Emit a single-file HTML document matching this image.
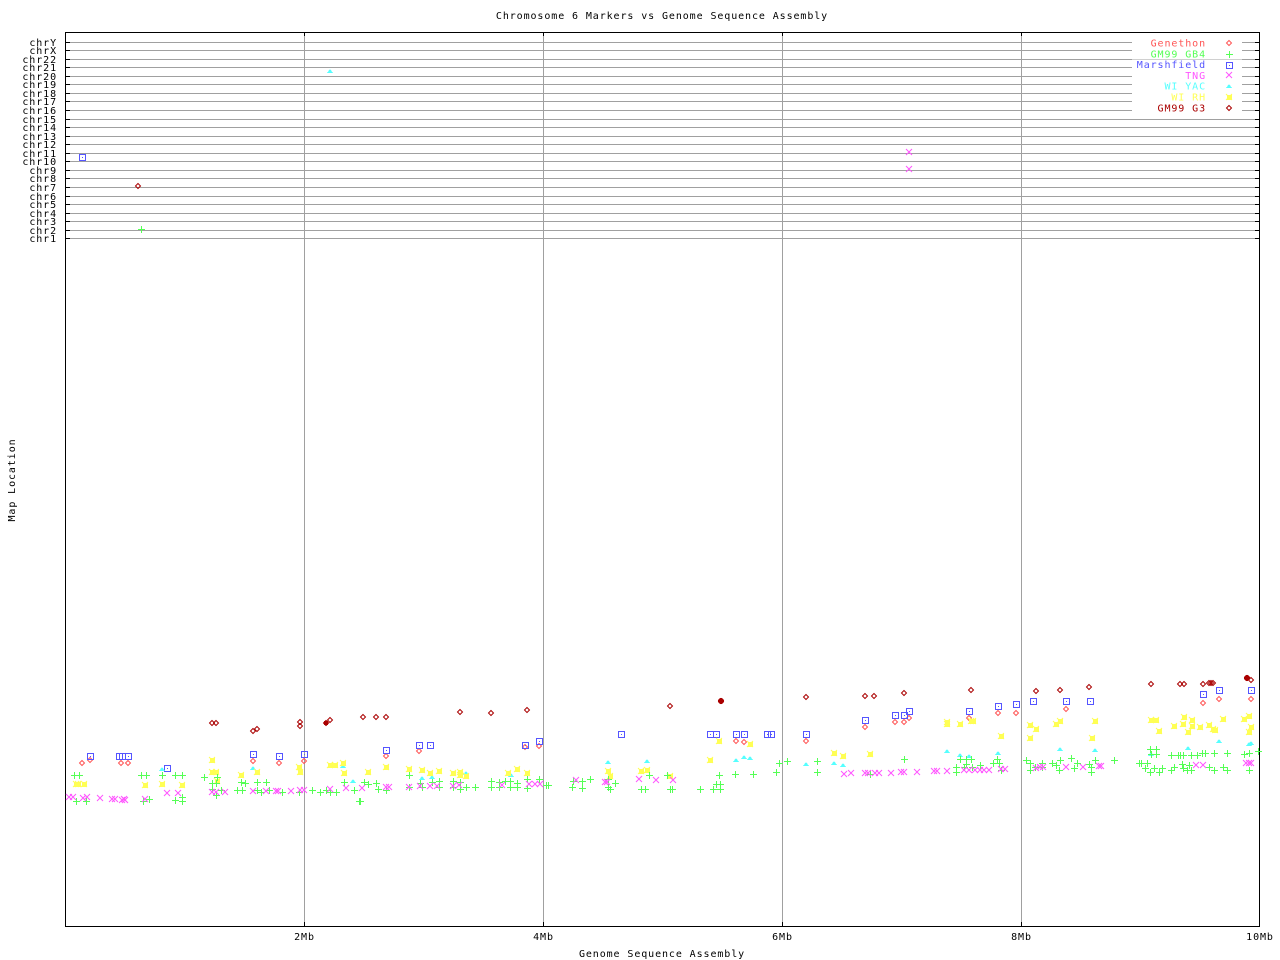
<!DOCTYPE html>
<html><head><meta charset="utf-8"><style>
body{margin:0;background:#fff}
svg{display:block}
text{font-family:"DejaVu Sans Mono","Liberation Mono",monospace;font-size:10px;letter-spacing:0.9px}
</style></head><body>
<svg id="s" width="1280" height="960" xmlns="http://www.w3.org/2000/svg" shape-rendering="crispEdges">
<rect width="1280" height="960" fill="#fff"/>
<text x="662" y="19" text-anchor="middle">Chromosome 6 Markers vs Genome Sequence Assembly</text>
<text x="662" y="957" text-anchor="middle">Genome Sequence Assembly</text>
<text x="15" y="480" text-anchor="middle" transform="rotate(-90 15 480)">Map Location</text>
<g id="g"></g>
</svg>
<script>
const NS="http://www.w3.org/2000/svg",g=document.getElementById('g');
function el(t,a,txt){const e=document.createElementNS(NS,t);for(const k in a)e.setAttribute(k,a[k]);if(txt)e.textContent=txt;g.appendChild(e);return e;}
const L=65,R=1260,T=32,B=926;
const chr=["chrY","chrX","chr22","chr21","chr20","chr19","chr18","chr17","chr16","chr15","chr14","chr13","chr12","chr11","chr10","chr9","chr8","chr7","chr6","chr5","chr4","chr3","chr2","chr1"];
chr.forEach((c,i)=>{const y=Math.round(41.5+i*196.8/23)+0.5;
 el('line',{x1:L,x2:R,y1:y,y2:y,stroke:'#a0a0a0'});
 el('line',{x1:L,x2:L+5,y1:y,y2:y,stroke:'#000'});
 el('line',{x1:R-5,x2:R,y1:y,y2:y,stroke:'#000'});
 el('text',{x:57,y:y+3.5,'text-anchor':'end'},c);});
[2,4,6,8].forEach(k=>{const x=Math.round(L+k*119.5)+0.5;
 el('line',{x1:x,x2:x,y1:T,y2:B,stroke:'#a0a0a0'});
 el('line',{x1:x,x2:x,y1:B-4,y2:B,stroke:'#000'});
 el('line',{x1:x,x2:x,y1:T,y2:T+4,stroke:'#000'});
 el('text',{x:x,y:940,'text-anchor':'middle'},k+'Mb');});
el('text',{x:1260,y:940,'text-anchor':'middle'},'10Mb');
el('rect',{x:L+0.5,y:T+0.5,width:R-L-1,height:B-T,fill:'none',stroke:'#000'});
const C={gen:'#ff5555',gb4:'#55ff55',mar:'#5555ff',tng:'#ff55ff',yac:'#55ffff',rh:'#ffff55',g3:'#aa0000'};
function mk(type,x,y){x=Math.round(x);y=Math.round(y);
 if(type=='gen'||type=='g3'){el('path',{d:`M${x} ${y-2.5}L${x+2.5} ${y}L${x} ${y+2.5}L${x-2.5} ${y}Z`,fill:'none',stroke:C[type],'shape-rendering':'auto'});}
 else if(type=='gb4'){el('path',{d:`M${x-3} ${y+.5}H${x+4}M${x+.5} ${y-3}V${y+4}`,stroke:C.gb4});}
 else if(type=='mar'){el('rect',{x:x-2.5,y:y-2.5,width:6,height:6,fill:'none',stroke:C.mar});el('rect',{x:x,y:y,width:1,height:1,fill:C.mar});}
 else if(type=='tng'){el('path',{d:`M${x-3} ${y-3}L${x+3} ${y+3}M${x+3} ${y-3}L${x-3} ${y+3}`,stroke:C.tng,'shape-rendering':'auto'});}
 else if(type=='yac'){el('path',{d:`M${x} ${y-2}L${x+3} ${y+2}L${x-3} ${y+2}Z`,fill:C.yac});}
 else if(type=='rh'){el('rect',{x:x-2,y:y-2,width:5,height:5,fill:C.rh});el('path',{d:`M${x-3} ${y-3}L${x+3} ${y+3}M${x+3} ${y-3}L${x-3} ${y+3}`,stroke:C.rh,'shape-rendering':'auto'});}
}
function A(type,arr){for(let i=0;i<arr.length;i+=2)mk(type,arr[i],arr[i+1]);}
function Z(type,ox,oy,arr){for(let i=0;i<arr.length;i+=2)mk(type,ox+arr[i]/3,oy+arr[i+1]/3);}
A('gen',[82,763,90,760,121,763,128,763,253,761,279,763,304,761,386,756,419,751,525,747,539,746,736,741,744,742,806,741,865,727,895,722,904,722,909,718,969,718,998,713,1016,713,1066,709,1203,703,1219,699,1251,699]);
A('g3',[212,723,216,723,253,731,257,729,300,722,300,726,326,723,330,720,363,717,376,717,386,717,460,712,491,713,527,710,670,706,721,701,806,697,865,696,874,696,904,693,971,690,1036,691,1060,690,1089,687,1151,684,1180,684,1184,684,1203,684,1209,683,1211,683,1213,683,1247,678,1251,680,138,186]);
el('circle',{cx:721,cy:701,r:3,fill:C.g3});el('circle',{cx:326,cy:723,r:2.5,fill:C.g3});el('circle',{cx:1247,cy:678,r:3,fill:C.g3});
A('mar',[82,157,90,756,119,756,122,756,128,756,167,768,253,754,279,756,304,754,386,750,419,745,430,745,525,745,539,741,621,734,710,734,716,734,736,734,744,734,767,734,771,734,806,734,865,720,895,715,904,715,909,711,969,711,998,706,1016,704,1033,701,1066,701,1090,701,1203,694,1219,690,1251,690]);
A('yac',[330,71,162,769,253,768,343,766,353,781,422,778,432,777,466,773,511,775,608,762,647,761,736,760,744,757,750,758,806,764,834,763,843,765,947,751,960,755,969,756,998,753,1060,749,1095,750,1151,754,1188,748,1219,741,1249,744,1251,743]);
A('rh',[76,784,78,784,84,784,145,785,162,784,182,785,212,760,212,772,216,772,217,781,241,775,257,772,299,767,300,772,330,765,335,765,343,763,344,773,368,772,386,767,409,769,422,770,430,773,439,771,453,773,460,772,460,775,466,776,508,773,517,769,527,773,608,771,610,776,641,771,647,770,670,776,710,760,719,741,750,744,834,753,843,756,870,754,947,722,947,724,960,724,971,721,973,721,1001,736,1030,725,1036,729,1030,738,1056,724,1060,721,1092,738,1095,721,1151,720,1156,720,1159,731,1174,726,1184,717,1183,724,1188,732,1192,720,1192,726,1200,727,1209,725,1213,729,1215,730,1223,719,1244,719,1249,716,1251,727,1249,732]);
A('gb4',[141,229]);
Z('gb4',60,680,[43,286,58,286,49,364,79,364,244,286,259,286,307,286,250,364,268,358,346,286,367,286,346,361,367,352,367,364,433,292,457,310,469,310,472,292,457,328,484,331,469,346,532,331,547,331,544,307,556,310,592,307,619,307,592,331,604,337,628,331,667,337,718,337,757,331,781,337,799,331,811,337,829,337,853,307,883,331,898,364]);
Z('gb4',360,680,[12,307,25,313,49,310,55,328,79,331,0,364,148,286,148,322,181,310,187,322,217,307,238,304,238,322,280,304,280,322,301,307,301,328,319,322,346,322,394,304,394,322,418,307,418,322,436,304,451,304,451,322,472,310,472,322,502,298,502,325,538,298,559,316,565,316,637,322,640,304,667,304,667,325,691,298,745,298,745,322,751,328,766,310,844,328,856,328,868,286,922,286,931,328,937,328,1021,328,1060,328,1069,313,1081,313,1081,328,1078,286,1126,283,1180,283,1249,277,1258,250,1282,244]);
Z('gb4',800,660,[52,304,52,337,313,298,211,343,469,322,469,337,481,298,493,322,499,298,499,313,514,298,517,322,541,316,580,310,592,298,604,331,598,310,679,301,691,331,691,310,706,322,727,310,727,322,757,310,769,316,781,301,778,331,814,295,823,325,832,310,868,313,874,337,874,322,886,301,943,301,1018,310,1024,310,1036,325,1042,310,1051,268,1051,337,1054,283,1063,325,1069,268,1069,283,1078,337,1087,325,1114,286,1114,331,1123,322,1135,286,1141,286,1150,286,1147,313,1150,325,1162,331,1168,316,1174,286,1174,331,1192,286,1207,280,1216,280,1228,322,1243,280,1243,331,1270,322,1282,280,1282,331,1333,283,1348,280,1348,331,1375,274]);
A('tng',[909,152,909,169]);
Z('tng',60,680,[28,352,40,352,70,355,82,352,121,355,157,358,166,358,187,361,196,361,193,358,256,358,322,340,355,340,457,337,469,337,496,337,580,334,619,334,649,334,655,334,694,334,721,331,733,331,811,328,859,325]);
Z('tng',360,680,[7,325,79,322,88,322,148,322,181,319,211,319,232,319,280,319,298,316,427,316,508,313,526,313,541,313,649,301,736,307,742,307,838,298,889,301,940,301]);
Z('tng',800,660,[133,343,154,340,196,340,205,340,226,340,238,340,274,340,304,337,313,337,352,337,403,334,412,334,442,334,493,331,508,331,526,331,541,331,553,331,568,331,604,328,616,328,709,325,721,322,730,322,799,322,850,322,898,319,902,319,1189,316,1210,316,1339,310,1348,310,1354,310]);
const leg=[['Genethon','gen'],['GM99 GB4','gb4'],['Marshfield','mar'],['TNG','tng'],['WI YAC','yac'],['WI RH','rh'],['GM99 G3','g3']];
leg.forEach((l,i)=>{const y=43+i*10.8;el('rect',{x:1132,y:y-5,width:110,height:10,fill:'#fff'});
 el('text',{x:1206,y:y+3.5,'text-anchor':'end',fill:C[l[1]]},l[0]);mk(l[1],1229,y);});
</script>
</body></html>
